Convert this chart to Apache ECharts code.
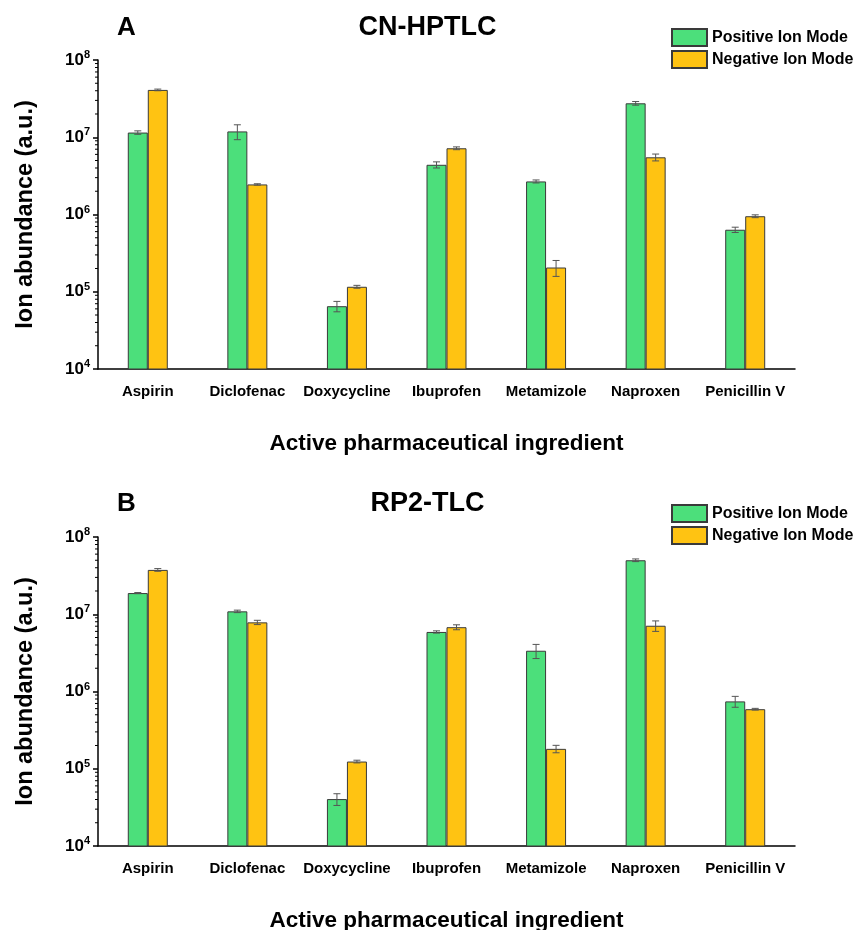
<!DOCTYPE html>
<html>
<head>
<meta charset="utf-8">
<script src="https://cdn.jsdelivr.net/npm/echarts@6/dist/echarts.min.js"></script>
<style>html,body{margin:0;padding:0;background:#fff}#c{width:855px;height:930px}</style>
</head>
<body>
<div id="c"></div>
<script>
const categories = ['Aspirin','Diclofenac','Doxycycline','Ibuprofen','Metamizole','Naproxen','Penicillin V'];
// Panel A: CN-HPTLC
const posA = [1.15e7, 1.19e7, 6.5e4, 4.4e6, 2.68e6, 2.75e7, 6.35e5];
const posAErr = [6e5, 2.6e6, 1.0e4, 4e5, 1.2e5, 1.5e6, 5e4];
const negA = [4.1e7, 2.45e6, 1.16e5, 7.2e6, 2.06e5, 5.5e6, 9.5e5];
const negAErr = [1e6, 5e4, 5e3, 3e5, 4.8e4, 5.6e5, 4e4];
// Panel B: RP2-TLC
const posB = [1.88e7, 1.09e7, 4.05e4, 5.9e6, 3.37e6, 5.0e7, 7.45e5];
const posBErr = [3e5, 4e5, 7e3, 2e5, 7e5, 2e6, 1.2e5];
const negB = [3.75e7, 7.85e6, 1.24e5, 6.8e6, 1.81e5, 7.1e6, 5.9e5];
const negBErr = [1.5e6, 5e5, 5e3, 5e5, 2e4, 1.1e6, 1.5e4];
const yTicks = [1e4, 1e5, 1e6, 1e7, 1e8];
const minorTicks = [];
for (let e = 4; e < 8; e++) for (let m = 2; m <= 9; m++) minorTicks.push(m * Math.pow(10, e));

const FONT = 'Liberation Sans, Arial, sans-serif';
const GREEN = '#4CDF7B';
const YELLOW = '#FFC312';
const EDGE = '#3a3a3a';

function errSeries(idx, vals, errs, side) {
  return {
    type: 'custom', xAxisIndex: idx, yAxisIndex: idx, z: 5, silent: true,
    data: vals.map((v, i) => [i, v, errs[i]]),
    renderItem: function (params, api) {
      const i = api.value(0), v = api.value(1), e = api.value(2);
      const off = side * 10;
      const top = api.coord([i, v + e]);
      const bot = api.coord([i, Math.max(v - e, 1e4)]);
      const x = top[0] + off;
      const cap = 3.5;
      const st = { stroke: '#555', lineWidth: 1 };
      return { type: 'group', children: [
        { type: 'line', shape: { x1: x, y1: top[1], x2: x, y2: bot[1] }, style: st },
        { type: 'line', shape: { x1: x - cap, y1: top[1], x2: x + cap, y2: top[1] }, style: st },
        { type: 'line', shape: { x1: x - cap, y1: bot[1], x2: x + cap, y2: bot[1] }, style: st }
      ]};
    }
  };
}
function minorSeries(idx) {
  return {
    type: 'custom', xAxisIndex: idx, yAxisIndex: idx, z: 6, silent: true, clip: false,
    data: minorTicks.map(v => [0, v]),
    renderItem: function (params, api) {
      const y = api.coord([0, api.value(1)])[1];
      const x = params.coordSys.x;
      return { type: 'line', shape: { x1: x - 3, y1: y, x2: x, y2: y }, style: { stroke: '#000', lineWidth: 1 } };
    }
  };
}
function barSeries(idx, name, vals, color) {
  return {
    type: 'bar', name: name, xAxisIndex: idx, yAxisIndex: idx, barWidth: 20, barGap: '0%',
    data: vals, itemStyle: { color: color, borderColor: EDGE, borderWidth: 1 }
  };
}
function xAxis(idx) {
  return {
    type: 'category', gridIndex: idx, data: categories,
    axisLine: { lineStyle: { color: '#000', width: 1.5 } },
    axisTick: { alignWithLabel: true, length: 5, lineStyle: { color: '#000', width: 1.5 } },
    axisLabel: { interval: 0, color: '#000', fontFamily: FONT, fontWeight: 'bold', fontSize: 15, margin: 15 },
    name: 'Active pharmaceutical ingredient', nameLocation: 'middle', nameGap: 63,
    nameTextStyle: { color: '#000', fontFamily: FONT, fontWeight: 'bold', fontSize: 22.5 }
  };
}
function yAxis(idx) {
  return {
    type: 'log', logBase: 10, gridIndex: idx, min: 1e4, max: 1e8,
    axisLine: { show: true, lineStyle: { color: '#000', width: 1.5 } },
    axisTick: { show: true, length: 5, lineStyle: { color: '#000', width: 1.5 } },
    splitLine: { show: false },
    axisLabel: {
      margin: 8, color: '#000',
      formatter: function (v) { return '{b|10}{s|' + Math.round(Math.log10(v)) + '}'; },
      rich: {
        b: { fontFamily: FONT, fontWeight: 'bold', fontSize: 17, color: '#000' },
        s: { fontFamily: FONT, fontWeight: 'bold', fontSize: 11, color: '#000', verticalAlign: 'top', padding: [0, 0, 10, 0] }
      }
    },
    name: 'Ion abundance (a.u.)', nameLocation: 'middle', nameGap: 60,
    nameTextStyle: { color: '#000', fontFamily: FONT, fontWeight: 'bold', fontSize: 23.5 }
  };
}
function legend(top) {
  return {
    orient: 'vertical', left: 671, top: top, padding: 0, itemWidth: 35, itemHeight: 17, itemGap: 3,
    icon: 'rect',
    data: ['Positive Ion Mode', 'Negative Ion Mode'], selectedMode: false,
    textStyle: { color: '#000', fontFamily: FONT, fontWeight: 'bold', fontSize: 16 }
  };
}
const titleStyle = { color: '#000', fontFamily: FONT, fontWeight: 'bold' };
const chart = echarts.init(document.getElementById('c'), null, { renderer: 'canvas' });
chart.setOption({
  animation: false,
  backgroundColor: '#fff',
  title: [
    { text: 'A', left: 112, top: 10, textStyle: Object.assign({ fontSize: 26 }, titleStyle) },
    { text: 'CN-HPTLC', left: 'center', top: 9, textStyle: Object.assign({ fontSize: 27 }, titleStyle) },
    { text: 'B', left: 112, top: 486, textStyle: Object.assign({ fontSize: 26 }, titleStyle) },
    { text: 'RP2-TLC', left: 'center', top: 485, textStyle: Object.assign({ fontSize: 27 }, titleStyle) }
  ],
  legend: [legend(28), legend(504)],
  grid: [
    { left: 98, right: 60, top: 60, height: 309, outerBoundsMode: 'none' },
    { left: 98, right: 60, top: 537, height: 309, outerBoundsMode: 'none' }
  ],
  xAxis: [xAxis(0), xAxis(1)],
  yAxis: [yAxis(0), yAxis(1)],
  series: [
    barSeries(0, 'Positive Ion Mode', posA, GREEN),
    barSeries(0, 'Negative Ion Mode', negA, YELLOW),
    errSeries(0, posA, posAErr, -1),
    errSeries(0, negA, negAErr, 1),
    minorSeries(0),
    barSeries(1, 'Positive Ion Mode', posB, GREEN),
    barSeries(1, 'Negative Ion Mode', negB, YELLOW),
    errSeries(1, posB, posBErr, -1),
    errSeries(1, negB, negBErr, 1),
    minorSeries(1)
  ]
});
</script>
</body>
</html>
